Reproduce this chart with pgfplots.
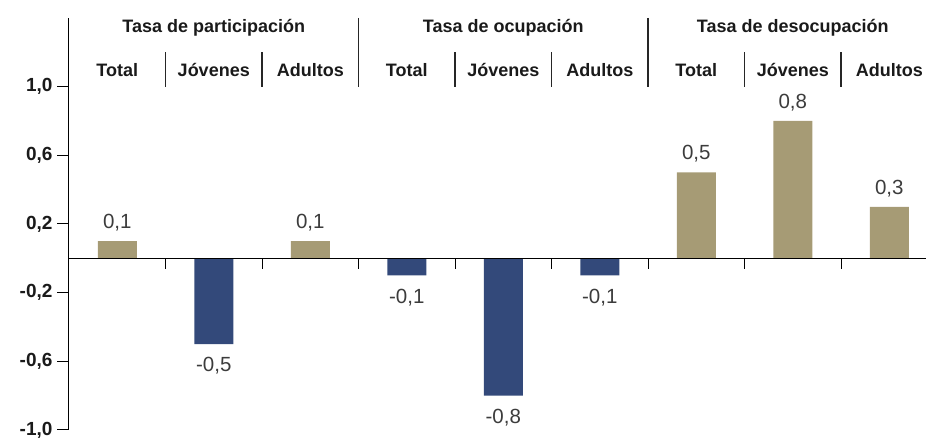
\documentclass[border=0pt]{standalone}
\usepackage{pgfplots}
\pgfplotsset{compat=1.18}
\usepackage{fontspec}
\setmainfont{Liberation Sans}
\newfontfamily\hdr{Liberation Sans}
\definecolor{tan}{HTML}{A69B75}
\definecolor{navy}{HTML}{33497A}
\definecolor{txt}{HTML}{1A1A1A}
\begin{document}
\begin{tikzpicture}
\useasboundingbox (-69pt,-8pt) rectangle (857pt,430pt);
\begin{axis}[
  scale only axis,
  width=857pt, height=412pt,
  anchor=south west, at={(0,0)},
  xmin=-0.5, xmax=8.38,
  ymin=-1.0, ymax=1.4,
  axis x line=none,
  axis y line*=left,
  y axis line style={black, line width=1pt},
  ytick={-1.0,-0.6,-0.2,0.2,0.6,1.0},
  /pgf/number format/fixed,
  /pgf/number format/fixed zerofill,
  /pgf/number format/precision=1,
  /pgf/number format/use comma,
  /pgf/number format/assume math mode=true,
  yticklabel style={font=\hdr\bfseries\fontsize{19}{21}\selectfont, text=txt, xshift=-1pt},
  tick align=outside,
  major tick length=12pt,
  tick style={black, line width=1pt},
  ybar, bar width=39pt, bar shift=0pt,
  clip=false,
  nodes near coords,
  nodes near coords style={font=\fontsize{20.5}{22}\selectfont, text=txt!85, inner sep=0pt},
]
\addplot[fill=tan, draw=none,
  every node near coord/.append style={anchor=base, yshift=12.5pt}]
  coordinates {(0,0.1) (2,0.1) (6,0.5) (7,0.8) (8,0.3)};
\addplot[fill=navy, draw=none,
  every node near coord/.append style={anchor=north, yshift=-13pt}]
  coordinates {(1,-0.5) (3,-0.1) (4,-0.8) (5,-0.1)};
% zero line and boundary ticks
\draw[black, line width=1pt] (axis cs:-0.5,0) -- (axis cs:8.38,0);
\draw[black, line width=1pt] (axis cs:0.5,0) -- (axis cs:0.5,-0.064);
\draw[black, line width=1pt] (axis cs:1.5,0) -- (axis cs:1.5,-0.064);
\draw[black, line width=1pt] (axis cs:2.5,0) -- (axis cs:2.5,-0.064);
\draw[black, line width=1pt] (axis cs:3.5,0) -- (axis cs:3.5,-0.064);
\draw[black, line width=1pt] (axis cs:4.5,0) -- (axis cs:4.5,-0.064);
\draw[black, line width=1pt] (axis cs:5.5,0) -- (axis cs:5.5,-0.064);
\draw[black, line width=1pt] (axis cs:6.5,0) -- (axis cs:6.5,-0.064);
\draw[black, line width=1pt] (axis cs:7.5,0) -- (axis cs:7.5,-0.064);
% header separators
\draw[black!85, line width=1.2pt] (axis cs:2.5,1.4) -- (axis cs:2.5,1.0);
\draw[black!85, line width=1.2pt] (axis cs:5.5,1.4) -- (axis cs:5.5,1.0);
\draw[black!85, line width=1.2pt] (axis cs:0.5,1.2) -- (axis cs:0.5,1.0);
\draw[black!85, line width=1.2pt] (axis cs:1.5,1.2) -- (axis cs:1.5,1.0);
\draw[black!85, line width=1.2pt] (axis cs:3.5,1.2) -- (axis cs:3.5,1.0);
\draw[black!85, line width=1.2pt] (axis cs:4.5,1.2) -- (axis cs:4.5,1.0);
\draw[black!85, line width=1.2pt] (axis cs:6.5,1.2) -- (axis cs:6.5,1.0);
\draw[black!85, line width=1.2pt] (axis cs:7.5,1.2) -- (axis cs:7.5,1.0);
% headers
\tikzset{hd/.style={font=\hdr\bfseries\fontsize{18}{20}\selectfont, text=txt, inner sep=0pt, anchor=base}}
\node[hd] at (axis cs:1,1.315) {Tasa de participación};
\node[hd] at (axis cs:4,1.315) {Tasa de ocupación};
\node[hd] at (axis cs:7,1.315) {Tasa de desocupación};
\node[hd] at (axis cs:0,1.06) {Total};
\node[hd] at (axis cs:1,1.06) {Jóvenes};
\node[hd] at (axis cs:2,1.06) {Adultos};
\node[hd] at (axis cs:3,1.06) {Total};
\node[hd] at (axis cs:4,1.06) {Jóvenes};
\node[hd] at (axis cs:5,1.06) {Adultos};
\node[hd] at (axis cs:6,1.06) {Total};
\node[hd] at (axis cs:7,1.06) {Jóvenes};
\node[hd] at (axis cs:8,1.06) {Adultos};
\end{axis}
\end{tikzpicture}
\end{document}
